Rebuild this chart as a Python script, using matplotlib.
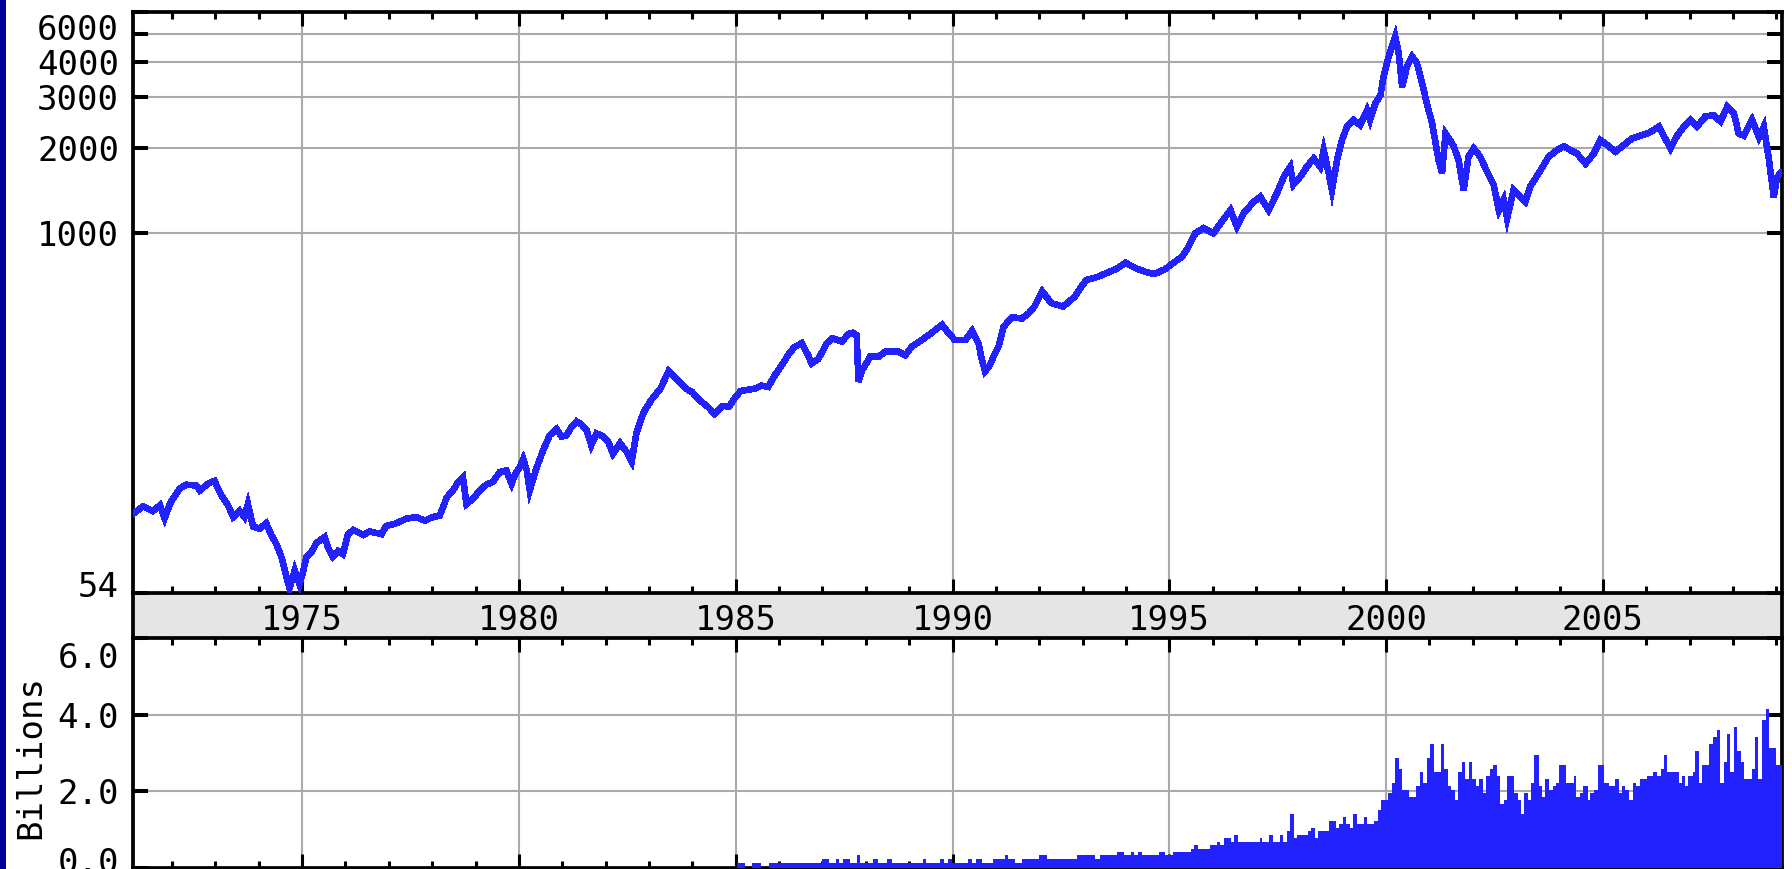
import matplotlib
matplotlib.use('Agg')
import matplotlib.pyplot as plt
import matplotlib.transforms as mtransforms
from matplotlib.patches import Rectangle
from matplotlib.ticker import NullLocator
import numpy as np

# ---------------- data ----------------
years = [1971.12, 1971.33, 1971.56, 1971.72, 1971.83, 1971.95, 1972.02, 1972.18, 1972.33, 1972.56,
         1972.64, 1972.83, 1972.98, 1973.06, 1973.17, 1973.29, 1973.41, 1973.56, 1973.67, 1973.75,
         1973.87, 1974.02, 1974.17, 1974.29, 1974.41, 1974.52, 1974.60, 1974.71, 1974.83, 1974.94,
         1975.02, 1975.10, 1975.21, 1975.33, 1975.52, 1975.60, 1975.71, 1975.83, 1975.94, 1976.06,
         1976.18, 1976.41, 1976.56, 1976.83, 1976.94, 1977.17, 1977.40, 1977.63, 1977.83, 1978.02,
         1978.17, 1978.25, 1978.33, 1978.48, 1978.60, 1978.71, 1978.79, 1978.94, 1979.10, 1979.25,
         1979.40, 1979.56, 1979.71, 1979.83, 1979.91, 1980.02, 1980.10, 1980.18, 1980.25, 1980.40,
         1980.56, 1980.71, 1980.87, 1980.98, 1981.10, 1981.21, 1981.33, 1981.44, 1981.56, 1981.67,
         1981.79, 1981.94, 1982.06, 1982.17, 1982.33, 1982.48, 1982.60, 1982.71, 1982.83, 1982.90,
         1983.05, 1983.27, 1983.45, 1983.58, 1983.70, 1983.85, 1984.00, 1984.16, 1984.35, 1984.51,
         1984.69, 1984.85, 1985.00, 1985.12, 1985.43, 1985.60, 1985.75, 1985.91, 1986.05, 1986.22,
         1986.35, 1986.52, 1986.67, 1986.75, 1986.90, 1987.02, 1987.10, 1987.22, 1987.45, 1987.60,
         1987.70, 1987.79, 1987.83, 1987.92, 1988.00, 1988.10, 1988.30, 1988.45, 1988.75, 1988.91,
         1989.06, 1989.29, 1989.45, 1989.60, 1989.76, 1989.87, 1990.05, 1990.30, 1990.45, 1990.60,
         1990.66, 1990.75, 1990.85, 1990.97, 1991.06, 1991.18, 1991.37, 1991.60, 1991.75, 1991.89,
         1992.07, 1992.28, 1992.55, 1992.81, 1993.08, 1993.34, 1993.60, 1993.80, 1993.99, 1994.26,
         1994.45, 1994.66, 1994.92, 1995.02, 1995.29, 1995.40, 1995.52, 1995.60, 1995.79, 1996.02,
         1996.18, 1996.41, 1996.56, 1996.71, 1996.95, 1997.10, 1997.29, 1997.48, 1997.64, 1997.79,
         1997.86, 1998.02, 1998.17, 1998.33, 1998.48, 1998.56, 1998.67, 1998.75, 1998.87, 1998.98,
         1999.10, 1999.25, 1999.40, 1999.56, 1999.63, 1999.75, 1999.87, 1999.94, 2000.06, 2000.21,
         2000.29, 2000.37, 2000.48, 2000.60, 2000.71, 2000.83, 2000.94, 2001.06, 2001.21, 2001.29,
         2001.37, 2001.56, 2001.67, 2001.79, 2001.90, 2002.02, 2002.17, 2002.33, 2002.48, 2002.60,
         2002.71, 2002.79, 2002.94, 2003.10, 2003.21, 2003.33, 2003.52, 2003.75, 2003.94, 2004.10,
         2004.25, 2004.40, 2004.60, 2004.79, 2004.94, 2005.10, 2005.29, 2005.48, 2005.67, 2005.86,
         2006.06, 2006.29, 2006.40, 2006.56, 2006.71, 2006.87, 2007.02, 2007.17, 2007.36, 2007.56,
         2007.71, 2007.87, 2008.02, 2008.13, 2008.25, 2008.44, 2008.60, 2008.71, 2008.83, 2008.94,
         2009.02, 2009.10]
index_values = [103, 109, 105, 110, 99, 111, 116, 126, 130, 129,
                124, 131, 134, 126, 117, 110, 100, 105, 100, 111,
                92.5, 91, 95, 86.5, 80, 72.5, 65, 56, 65, 58,
                64, 72.5, 75, 81, 85, 78, 72.5, 76, 74, 87,
                90, 86.5, 89, 87, 93, 95, 98.6, 100, 97, 100,
                101, 108, 117, 124, 133, 138, 111, 116, 124, 130,
                133, 144, 146, 131, 141, 150, 160, 146, 124, 148,
                172, 194, 204, 192, 194, 207, 217, 212, 202, 179,
                197, 192, 184, 167, 182, 170, 157, 197, 224, 237,
                258, 284, 326, 311, 300, 283, 275, 258, 245, 231,
                246, 245, 265, 278, 283, 290, 287, 317, 340, 374,
                396, 409, 371, 347, 360, 387, 409, 426, 415, 441,
                445, 437, 300, 330, 345, 367, 367, 382, 382, 371,
                398, 420, 437, 455, 475, 452, 420, 420, 452, 409,
                367, 326, 340, 374, 398, 468, 505, 500, 520, 551,
                623, 566, 551, 595, 683, 700, 728, 750, 785, 748,
                730, 717, 748, 770, 825, 872, 945, 998, 1040, 998,
                1081, 1204, 1052, 1172, 1289, 1340, 1204, 1378, 1578, 1710,
                1480, 1578, 1710, 1830, 1710, 1958, 1640, 1417, 1806, 2125,
                2369, 2502, 2402, 2706, 2502, 2858, 3057, 3551, 4176, 4914,
                4299, 3274, 3853, 4176, 3962, 3364, 2858, 2432, 1806, 1624,
                2240, 2020, 1806, 1417, 1857, 1987, 1857, 1640, 1480, 1204,
                1310, 1126, 1417, 1340, 1289, 1463, 1624, 1857, 1958, 2020,
                1958, 1905, 1755, 1905, 2125, 2040, 1933, 2040, 2150, 2200,
                2250, 2369, 2200, 1987, 2200, 2369, 2502, 2369, 2570, 2600,
                2470, 2790, 2640, 2240, 2200, 2502, 2175, 2369, 1806, 1340,
                1578, 1624]

vol_start = [1985.04, 1985.21, 1985.38, 1985.59, 1985.76, 1986.98, 1987.15, 1987.32, 1987.39, 1987.47,
             1987.64, 1987.80, 1987.87, 1988.16, 1988.29, 1988.50, 1988.60, 1989.33, 1989.40, 1989.72,
             1989.81, 1989.89, 1989.99, 1990.35, 1990.46, 1990.54, 1990.69, 1990.94, 1991.20, 1991.28,
             1991.45, 1991.60, 1992.00, 1992.17, 1992.88, 1993.29, 1993.39, 1993.79, 1993.95, 1994.11,
             1994.19, 1994.27, 1994.36, 1994.76, 1994.91, 1995.09, 1995.50, 1995.56, 1995.67, 1995.94,
             1996.11, 1996.18, 1996.26, 1996.43, 1996.50, 1996.58, 1997.08, 1997.14, 1997.30, 1997.39,
             1997.55, 1997.62, 1997.71, 1997.78, 1997.87, 1997.94, 1998.19, 1998.27, 1998.36, 1998.43,
             1998.68, 1998.84, 1998.92, 1999.01, 1999.08, 1999.17, 1999.24, 1999.32, 1999.49, 1999.55,
             1999.72, 1999.82, 1999.88, 2000.04, 2000.13, 2000.20, 2000.29, 2000.37, 2000.53, 2000.70,
             2000.78, 2000.85, 2000.95, 2001.02, 2001.10, 2001.26, 2001.33, 2001.42, 2001.49, 2001.59,
             2001.66, 2001.74, 2001.81, 2001.91, 2001.97, 2002.08, 2002.14, 2002.23, 2002.31, 2002.39,
             2002.46, 2002.55, 2002.63, 2002.71, 2002.78, 2002.95, 2003.03, 2003.10, 2003.18, 2003.27,
             2003.35, 2003.42, 2003.52, 2003.59, 2003.67, 2003.76, 2003.84, 2003.91, 2003.99, 2004.16,
             2004.33, 2004.39, 2004.48, 2004.55, 2004.65, 2004.71, 2004.80, 2004.88, 2005.03, 2005.13,
             2005.29, 2005.37, 2005.45, 2005.52, 2005.61, 2005.69, 2005.77, 2005.86, 2006.01, 2006.16,
             2006.24, 2006.33, 2006.41, 2006.48, 2006.75, 2006.82, 2006.90, 2006.97, 2007.07, 2007.13,
             2007.22, 2007.29, 2007.45, 2007.54, 2007.62, 2007.71, 2007.79, 2007.86, 2007.94, 2008.03,
             2008.09, 2008.18, 2008.26, 2008.43, 2008.51, 2008.58, 2008.68, 2008.75, 2008.83, 2009.00]
vol_billions = [0.14, 0.0, 0.14, 0.0, 0.14, 0.24, 0.14, 0.24, 0.14, 0.24,
                0.14, 0.33, 0.14, 0.24, 0.14, 0.24, 0.14, 0.24, 0.14, 0.24,
                0.14, 0.24, 0.14, 0.24, 0.14, 0.24, 0.14, 0.24, 0.33, 0.24,
                0.14, 0.24, 0.33, 0.24, 0.33, 0.24, 0.33, 0.43, 0.33, 0.43,
                0.33, 0.43, 0.33, 0.43, 0.33, 0.43, 0.50, 0.61, 0.50, 0.61,
                0.69, 0.61, 0.79, 0.69, 0.87, 0.69, 0.79, 0.69, 0.87, 0.69,
                0.87, 0.69, 0.97, 1.41, 0.79, 0.87, 0.97, 1.05, 0.79, 0.97,
                1.23, 1.05, 1.15, 1.33, 1.15, 1.05, 1.41, 1.15, 1.33, 1.15,
                1.23, 1.52, 1.77, 1.96, 2.22, 2.87, 2.58, 2.03, 1.85, 2.14,
                2.50, 2.22, 2.87, 3.23, 2.50, 3.23, 2.58, 2.14, 2.03, 1.77,
                2.50, 2.76, 2.32, 2.76, 2.32, 2.14, 2.32, 1.96, 2.40, 2.58,
                2.68, 2.40, 1.67, 1.77, 2.40, 1.96, 1.77, 1.41, 1.96, 1.77,
                2.22, 2.94, 2.14, 1.85, 2.32, 2.03, 2.14, 2.22, 2.68, 2.22,
                2.40, 1.85, 1.96, 2.14, 1.77, 1.96, 2.03, 2.68, 2.22, 2.14,
                2.32, 1.96, 2.14, 2.03, 1.77, 2.22, 2.14, 2.32, 2.40, 2.50,
                2.40, 2.58, 2.94, 2.50, 2.22, 2.40, 2.14, 2.40, 2.50, 3.05,
                2.22, 2.68, 3.23, 3.41, 3.59, 2.22, 2.76, 3.49, 2.50, 3.67,
                3.05, 2.76, 2.32, 2.58, 3.41, 2.32, 3.85, 4.14, 3.13, 2.68]

year_ticks = [1975, 1980, 1985, 1990, 1995, 2000, 2005]
year_labels = ['1975', '1980', '1985', '1990', '1995', '2000', '2005']
minor_years = [1972, 1973, 1974, 1976, 1977, 1978, 1979, 1981, 1982, 1983, 1984,
               1986, 1987, 1988, 1989, 1991, 1992, 1993, 1994, 1996, 1997, 1998, 1999,
               2001, 2002, 2003, 2004, 2006, 2007, 2008, 2009]
price_ticks = [54, 1000, 2000, 3000, 4000, 5000, 6000]
price_labels = ['54', '1000', '2000', '3000', '4000', '', '6000']
vol_ticks = [0, 2, 4, 6]
vol_labels = ['0.0', '2.0', '4.0', '6.0']
vol_axis_label = 'Billions'

# ---------------- style ----------------
W, H = 1792, 869
XMIN, XMAX = 1971.1, 2009.13
BLUE = '#2222ff'
GRID = '#aaaaaa'
FS = 24.5
plt.rcParams['font.family'] = ['DejaVu Sans Mono', 'DejaVu Sans']

fig = plt.figure(figsize=(W / 100, H / 100), dpi=100)
fig.patch.set_facecolor('white')


def fx(px):
    return px / W


def fy(py):
    return 1 - py / H


L, R = 133, 1782
ax1 = fig.add_axes([fx(L), fy(593), fx(R - L), (593 - 12) / H])
band = fig.add_axes([fx(L), fy(638), fx(R - L), (638 - 593) / H])
ax2 = fig.add_axes([fx(L), fy(868), fx(R - L), (868 - 638) / H])
band.set_zorder(0)
ax1.set_zorder(2)
ax2.set_zorder(2)


def style(ax):
    for s in ax.spines.values():
        s.set_linewidth(2.7)
        s.set_color('black')
    ax.set_xlim(XMIN, XMAX)
    ax.set_xticks(year_ticks)
    ax.set_xticks(minor_years, minor=True)
    ax.tick_params(axis='x', which='major', direction='in', length=10, width=2.2,
                   top=True, bottom=True, labelbottom=False, labeltop=False)
    ax.tick_params(axis='x', which='minor', direction='in', length=5, width=2.2,
                   top=True, bottom=True)
    ax.tick_params(axis='y', which='major', direction='in', length=11, width=2.9,
                   left=True, right=True, labelsize=FS, pad=10)
    ax.tick_params(axis='y', which='minor', left=False, right=False)
    ax.grid(True, which='major', color=GRID, linewidth=1.5)
    ax.set_axisbelow(True)


# upper panel: index level (log scale)
ax1.set_yscale('log')
ax1.set_ylim(54, 6000)
ax1.set_yticks(price_ticks, price_labels)
ax1.yaxis.set_minor_locator(NullLocator())
style(ax1)
ax1.plot(years, index_values, color=BLUE, lw=4.0, solid_joinstyle='miter',
         antialiased=False, zorder=3)

# band with year labels
band.set_facecolor('#e5e5e5')
band.set_xlim(XMIN, XMAX)
band.set_ylim(0, 1)
band.set_xticks([])
band.set_yticks([])
for side in ('top', 'bottom'):
    band.spines[side].set_visible(False)
for side in ('left', 'right'):
    band.spines[side].set_linewidth(2.7)
btrans = mtransforms.blended_transform_factory(band.transData, band.transAxes)
for yr, lab in zip(year_ticks, year_labels):
    band.text(yr, 0.178, lab, transform=btrans, ha='center', va='baseline', fontsize=FS)

# lower panel: volume
ax2.set_ylim(0, 6)
ax2.set_yticks(vol_ticks, vol_labels)
style(ax2)
edges = list(vol_start) + [XMAX + 0.05]
widths = np.diff(edges)
ax2.bar(vol_start, vol_billions, width=widths, align='edge', color=BLUE,
        linewidth=0, antialiased=False, zorder=3)

fig.text(fx(31), fy(757), vol_axis_label, rotation=90, ha='center', va='center', fontsize=FS)

# dark stripe on the left edge
fig.add_artist(Rectangle((0, 0), 6 / W, 1, transform=fig.transFigure,
                         facecolor='#000099', edgecolor='none'))


def shift(label, dy_px):
    label.set_transform(label.get_transform() +
                        mtransforms.ScaledTranslation(0, dy_px / 100, fig.dpi_scale_trans))


lab1 = ax1.get_yticklabels()
shift(lab1[0], 9)
shift(lab1[-1], -15)
lab2 = ax2.get_yticklabels()
shift(lab2[0], 8)
shift(lab2[-1], -17)

fig.savefig('out.png', dpi=100)
